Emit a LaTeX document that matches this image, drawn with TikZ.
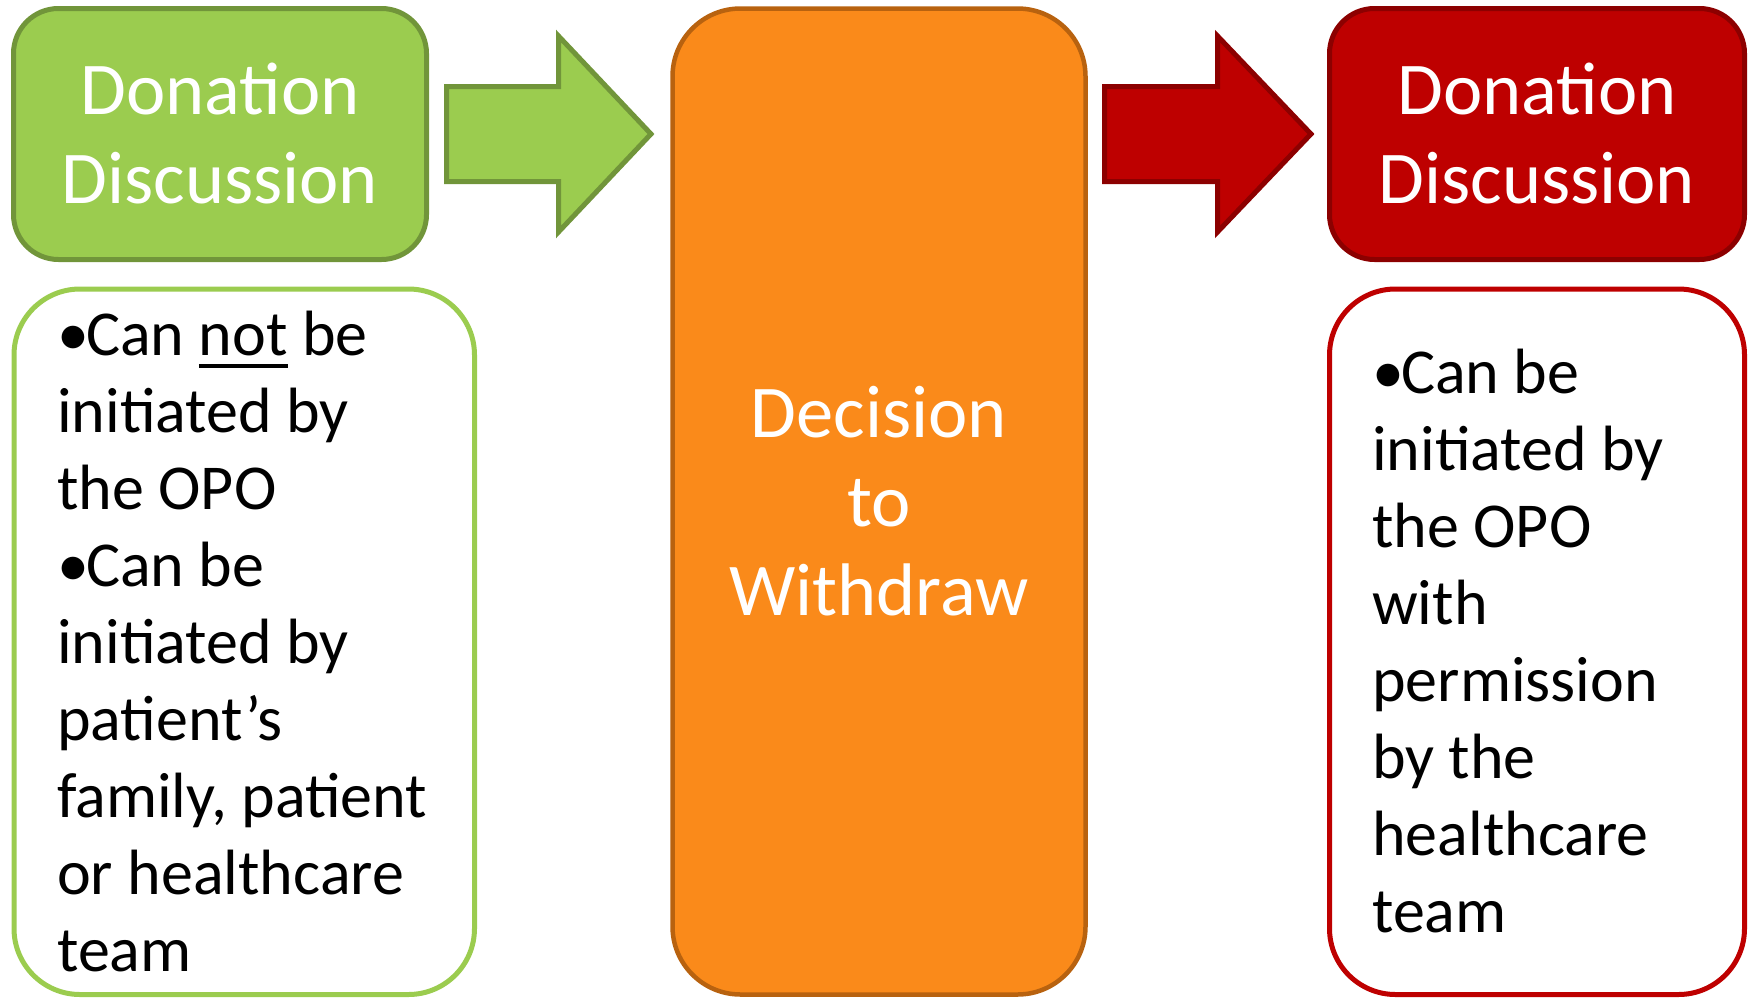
\documentclass[tikz,border=0pt]{standalone}
\usepackage{fontspec}
\setmainfont{Carlito}
\definecolor{gfill}{HTML}{9BCC4F}
\definecolor{gdark}{HTML}{71953A}
\definecolor{ofill}{HTML}{FA8A1A}
\definecolor{odark}{HTML}{B8620F}
\definecolor{rfill}{HTML}{BE0000}
\definecolor{rdark}{HTML}{8C0000}
\newsavebox\ulbox
\newcommand{\ulword}[1]{\sbox\ulbox{#1}\rlap{\rule[-13pt]{\wd\ulbox}{4.5pt}}\usebox\ulbox}
\newcommand{\bul}{•\kern-3pt}
\begin{document}
\begin{tikzpicture}[x=1pt,y=-1pt,
  panel/.style={draw, line width=5pt, rounded corners=#1, inner sep=0pt},
  titletext/.style={text=white, align=center, anchor=north, inner sep=0pt,
    font=\fontsize{74.5}{89}\selectfont},
  bodytext/.style={text=black, align=left, anchor=north west, inner sep=0pt,
    font=\fontsize{64}{77}\selectfont},
  blockarrow/.style={line width=5pt, line join=miter}]
\useasboundingbox (0,0) rectangle (1748,999);
% boxes
\node[panel=45pt, draw=gdark, fill=gfill, minimum width=413pt, minimum height=251pt] (gtop) at (220,134) {};
\node[panel=68pt, draw=odark, line width=4.5pt, fill=ofill, minimum width=413pt, minimum height=986pt] (mid) at (879,501.5) {};
\node[panel=45pt, draw=rdark, fill=rfill, minimum width=415pt, minimum height=251pt] (rtop) at (1537,134) {};
\node[panel=66pt, draw=gfill, fill=white, minimum width=460.5pt, minimum height=705.5pt] (gbot) at (244.25,641.75) {};
\node[panel=66pt, draw=rfill, fill=white, minimum width=415pt, minimum height=705.5pt] (rbot) at (1537,641.75) {};
% block arrows
\filldraw[blockarrow, fill=gfill, draw=gdark] (446.5,86.5) -- (558.5,86.5) -- (558.5,36) -- (651,134) -- (558.5,232) -- (558.5,181.5) -- (446.5,181.5) -- cycle;
\filldraw[blockarrow, fill=rfill, draw=rdark] (1104.5,86.5) -- (1217.5,86.5) -- (1217.5,36) -- (1311,134) -- (1217.5,232) -- (1217.5,181.5) -- (1104.5,181.5) -- cycle;
% titles
\node[titletext] (gtitle) at (220,44) {\rule{0pt}{70pt}Donation\\Discussion};
\node[titletext] (rtitle) at (1537,44) {\rule{0pt}{70pt}Donation\\Discussion};
\node[titletext] (midtext) at (879,367) {\rule{0pt}{70pt}Decision\\to\\Withdraw};
% bodies
\node[bodytext] (gbody) at (57,295) {\rule{0pt}{60pt}\bul Can \ulword{not} be\\
initiated by\\
the OPO\\
\bul Can be\\
initiated by\\
patient’s\\
family, patient\\
or healthcare\\
team};
\node[bodytext] (rbody) at (1372,333) {\rule{0pt}{60pt}\bul Can be\\
initiated by\\
the OPO\\
with\\
permission\\
by the\\
healthcare\\
team};
\end{tikzpicture}
\end{document}
